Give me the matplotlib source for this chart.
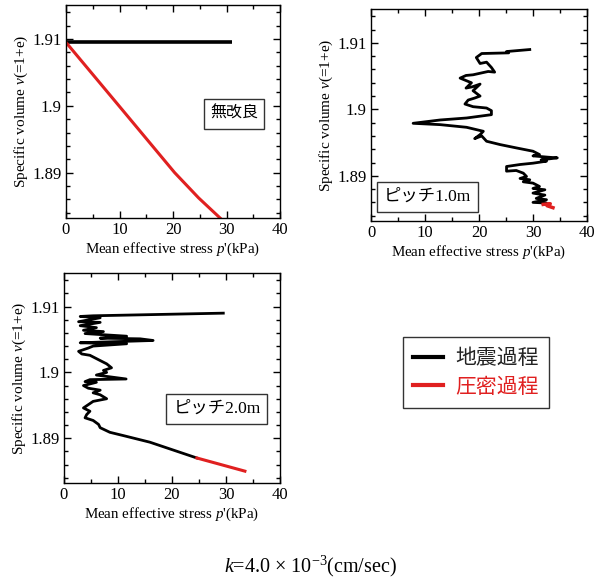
import matplotlib
matplotlib.use("Agg")
import matplotlib.pyplot as plt
from matplotlib.ticker import MultipleLocator

plt.rcParams['font.family'] = ['Liberation Serif', 'Noto Sans CJK JP']
plt.rcParams['mathtext.fontset'] = 'custom'
plt.rcParams['mathtext.rm'] = 'Liberation Serif'
plt.rcParams['mathtext.it'] = 'Liberation Serif:italic'

# ---- data ----
# Panel 1: 無改良
p1_eq_p = [0.0, 5.0, 10.0, 18.0, 25.0, 31.0]
p1_eq_v = [1.9095, 1.9095, 1.9095, 1.9095, 1.9095, 1.9095]
p1_con_p = [0.0, 4.9, 9.9, 15.1, 20.3, 24.8, 29.2]
p1_con_v = [1.9095, 1.9048, 1.900, 1.895, 1.890, 1.8862, 1.8829]

# Panel 2: ピッチ1.0m
p2_eq_p = [29.4, 25.1, 25.5, 20.5, 19.5, 20.2, 21.4, 22.3, 22.9, 21.7, 18.9, 17.6, 16.5,
           17.7, 18.6, 17.6, 18.8, 20.2, 18.9, 20.2, 19.2, 18.0, 17.4, 18.9, 21.4, 22.3,
           22.3, 17.7, 12.8, 7.8, 12.8, 17.7, 20.8, 20.2, 19.2, 20.5, 21.4, 23.9, 26.9,
           30.0, 31.2, 30.0, 32.8, 34.5, 31.5, 32.5, 30.0, 27.6, 25.1, 25.1, 26.9, 28.2,
           28.8, 27.6, 29.4, 28.2, 30.0, 31.2, 30.0, 32.2, 30.0, 32.2, 30.6, 32.5, 30.0,
           32.5, 31.9]
p2_eq_v = [1.9090, 1.9087, 1.9085, 1.9084, 1.9078, 1.9069, 1.9071, 1.9063, 1.9056, 1.9057,
           1.9052, 1.9051, 1.9047, 1.9043, 1.9040, 1.9032, 1.9034, 1.9038, 1.9028, 1.9020,
           1.9017, 1.9014, 1.9008, 1.9004, 1.9002, 1.8998, 1.8992, 1.8987, 1.8984, 1.8979,
           1.8977, 1.8973, 1.8967, 1.8962, 1.8956, 1.8960, 1.8952, 1.8947, 1.8942, 1.8937,
           1.8932, 1.8930, 1.8928, 1.8927, 1.8924, 1.8922, 1.8919, 1.8917, 1.8914, 1.8907,
           1.8908, 1.8904, 1.8899, 1.8896, 1.8894, 1.8891, 1.8889, 1.8884, 1.8881, 1.8879,
           1.8874, 1.8871, 1.8866, 1.8864, 1.8860, 1.8859, 1.8857]
p2_con_p = [31.9, 33.2, 32.6, 33.7]
p2_con_v = [1.8857, 1.8858, 1.8855, 1.8852]

# Panel 3: ピッチ2.0m
p3_eq_p = [29.5, 5.4, 3.0, 6.7, 2.7, 6.7, 3.0, 6.0, 3.6, 7.3, 3.9, 11.6, 6.7, 14.1, 16.5,
           6.7, 3.0, 11.6, 5.4, 4.5, 2.7, 3.3, 4.8, 6.7, 7.9, 8.8, 7.3, 7.9, 6.0, 11.5,
           4.8, 3.9, 6.0, 3.6, 4.5, 6.7, 5.4, 6.7, 7.9, 5.4, 4.5, 3.6, 4.8, 4.2, 3.9,
           5.4, 6.4, 6.7, 8.5, 11.0, 15.9, 24.6]
p3_eq_v = [1.9090, 1.9086, 1.9085, 1.9083, 1.9077, 1.9076, 1.9071, 1.9068, 1.9064, 1.9062,
           1.9059, 1.9055, 1.9052, 1.9051, 1.90485, 1.9046, 1.9045, 1.90435, 1.9040,
           1.9037, 1.9032, 1.9028, 1.9026, 1.9018, 1.9013, 1.9007, 1.9003, 1.9000, 1.8996,
           1.8990, 1.8989, 1.8986, 1.8985, 1.8980, 1.8976, 1.8973, 1.8969, 1.8966, 1.8960,
           1.8956, 1.8951, 1.8946, 1.8941, 1.8936, 1.8931, 1.8927, 1.8921, 1.8916, 1.8909,
           1.8904, 1.8894, 1.8870]
p3_con_p = [24.6, 33.5]
p3_con_v = [1.8870, 1.8850]

panel_labels = ["無改良", "ピッチ1.0m", "ピッチ2.0m"]
legend_labels = ["地震過程", "圧密過程"]
bottom_note = r"$k$=4.0 × 10$^{\mathregular{-3}}$(cm/sec)"
xlabel_text = r"Mean effective stress $p$'(kPa)"
ylabel_text = r"Specific volume $v$(=1+e)"

# ---- figure ----
fig = plt.figure(figsize=(6.01, 5.81), dpi=100)
W, H = 601, 581

def make_ax(x0, y0, x1, y1):
    ax = fig.add_axes([x0 / W, 1 - y1 / H, (x1 - x0) / W, (y1 - y0) / H])
    ax.set_xlim(0, 40)
    ax.set_ylim(1.8832, 1.9151)
    ax.xaxis.set_major_locator(MultipleLocator(10))
    ax.xaxis.set_minor_locator(MultipleLocator(5))
    ax.yaxis.set_minor_locator(MultipleLocator(0.002))
    ax.set_yticks([1.89, 1.90, 1.91])
    ax.set_yticklabels(["1.89", "1.9", "1.91"])
    ax.tick_params(which='both', direction='in', top=True, right=True, labelsize=12)
    ax.tick_params(which='major', length=5, width=1, pad=3)
    ax.tick_params(which='minor', length=3, width=1)
    for s in ax.spines.values():
        s.set_linewidth(1.0)
    ax.set_xlabel(xlabel_text, fontsize=10.8, labelpad=2)
    ax.set_ylabel(ylabel_text, fontsize=11, labelpad=2)
    return ax

ax1 = make_ax(66, 5, 280, 218)
ax2 = make_ax(371, 9, 587, 221)
ax3 = make_ax(64, 273, 280, 483)

black = '#000000'
red = '#e02020'

ax1.plot(p1_eq_p, p1_eq_v, color=black, lw=2.6, solid_capstyle='butt')
ax1.plot(p1_con_p, p1_con_v, color=red, lw=2.2)
ax2.plot(p2_eq_p, p2_eq_v, color=black, lw=2.0)
ax2.plot(p2_con_p, p2_con_v, color=red, lw=2.5)
ax3.plot(p3_eq_p, p3_eq_v, color=black, lw=2.0)
ax3.plot(p3_con_p, p3_con_v, color=red, lw=2.2)

box = dict(boxstyle='square,pad=0.4', fc='white', ec='#333333', lw=1.0)
ax1.text(0.785, 0.49, panel_labels[0], transform=ax1.transAxes, ha='center', va='center',
         fontsize=11.5, family=['Noto Sans CJK JP'], bbox=box)
ax2.text(0.262, 0.113, panel_labels[1], transform=ax2.transAxes, ha='center', va='center',
         fontsize=12.5, family=['Liberation Serif', 'Noto Sans CJK JP'], bbox=box)
ax3.text(0.708, 0.352, panel_labels[2], transform=ax3.transAxes, ha='center', va='center',
         fontsize=12.5, family=['Liberation Serif', 'Noto Sans CJK JP'], bbox=box)

h1, = ax1.plot([], [], color=black, lw=3)
h2, = ax1.plot([], [], color=red, lw=3)
leg = fig.legend([h1, h2], legend_labels, loc='upper left',
                 bbox_to_anchor=(403 / W, 1 - 337 / H), borderaxespad=0,
                 frameon=True, fancybox=False,
                 edgecolor='#333333', framealpha=1, handlelength=1.4, handletextpad=0.6,
                 borderpad=0.5, labelspacing=0.3, prop={'family': 'Noto Sans CJK JP', 'size': 15})
leg.get_frame().set_linewidth(1.0)
leg.get_texts()[0].set_color('#222222')
leg.get_texts()[1].set_color(red)

fig.text(310 / W, 1 - 566 / H, bottom_note, ha='center', va='center', fontsize=14.5)

fig.savefig("out.png", dpi=100)
